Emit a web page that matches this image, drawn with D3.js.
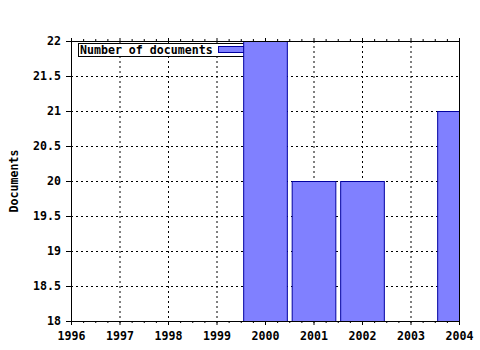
<!DOCTYPE html>
<html>
<head>
<meta charset="utf-8">
<script src="https://cdn.jsdelivr.net/npm/d3@7"></script>
<style>
  body { margin: 0; background: #fff; }
  text { font-family: "DejaVu Sans Mono", monospace; }
</style>
</head>
<body>
<div id="vis"></div>
<script>
// data
const years = [1996, 1997, 1998, 1999, 2000, 2001, 2002, 2003, 2004];
const docs = [18, 18, 18, 18, 22, 20, 20, 18, 21];
const yTicks = [18, 18.5, 19, 19.5, 20, 20.5, 21, 21.5, 22];

const FRAME_WIDTH = 480;
const FRAME_HEIGHT = 350;
const MARGINS = {left: 71, right: 21, top: 41, bottom: 29};
const FONT = 11.6;

const svg = d3.select("#vis")
  .append("svg")
    .attr("width", FRAME_WIDTH)
    .attr("height", FRAME_HEIGHT);

const X_SCALE = d3.scaleLinear()
  .domain([1996, 2004])
  .range([MARGINS.left, FRAME_WIDTH - MARGINS.right]);

const Y_SCALE = d3.scaleLinear()
  .domain([18, 22])
  .range([FRAME_HEIGHT - MARGINS.bottom, MARGINS.top]);

const step = X_SCALE(1997) - X_SCALE(1996);
const barW = step * 0.9;

// clip for the plot area
svg.append("clipPath").attr("id", "plot")
  .append("rect")
    .attr("x", MARGINS.left)
    .attr("y", MARGINS.top)
    .attr("width", X_SCALE(2004) - X_SCALE(1996))
    .attr("height", Y_SCALE(18) - Y_SCALE(22));

// dotted grid
svg.append("g").selectAll("line")
  .data(years.slice(1, -1))
  .enter().append("line")
    .attr("x1", d => X_SCALE(d) + 0.5).attr("x2", d => X_SCALE(d) + 0.5)
    .attr("y1", Y_SCALE(22)).attr("y2", Y_SCALE(18))
    .attr("stroke", "#000").attr("stroke-dasharray", "2,3");

svg.append("g").selectAll("line")
  .data(yTicks.slice(1, -1))
  .enter().append("line")
    .attr("x1", X_SCALE(1996)).attr("x2", X_SCALE(2004))
    .attr("y1", d => Y_SCALE(d) + 0.5).attr("y2", d => Y_SCALE(d) + 0.5)
    .attr("stroke", "#000").attr("stroke-dasharray", "2,3");

// legend
const legend = svg.append("g");
legend.append("rect")
  .attr("x", 78.5).attr("y", 43.5).attr("width", 166).attr("height", 13)
  .attr("fill", "#fff").attr("stroke", "#000");
legend.append("text")
  .attr("x", 80).attr("y", 54)
  .attr("font-size", FONT).attr("font-weight", "bold")
  .text("Number of documents");
legend.append("rect")
  .attr("x", 218.5).attr("y", 46.5).attr("width", 30).attr("height", 6)
  .attr("fill", "#8080ff").attr("stroke", "#0000a0");

// bars
svg.append("g").attr("clip-path", "url(#plot)")
  .selectAll("rect")
  .data(years.map((y, i) => ({year: y, value: docs[i]})).filter(d => d.value > 18))
  .enter().append("rect")
    .attr("x", d => X_SCALE(d.year) - barW / 2 + 0.5)
    .attr("y", d => Y_SCALE(d.value) + 0.5)
    .attr("width", barW)
    .attr("height", d => Y_SCALE(18) - Y_SCALE(d.value))
    .attr("fill", "#8080ff")
    .attr("stroke", "#0000a0");

// axes
const xMinor = d3.range(1996, 2004.01, 0.25);
const xAxis = d3.axisBottom(X_SCALE).tickValues(years).tickFormat(d3.format("d")).tickSize(4).tickPadding(7);
const gx = svg.append("g")
  .attr("transform", "translate(0," + Y_SCALE(18) + ")")
  .call(xAxis);
gx.selectAll("text").attr("font-size", FONT).attr("font-weight", "bold")
  .attr("font-family", "DejaVu Sans Mono").attr("fill", "#000");
gx.select(".domain").attr("d", "M" + X_SCALE(1996) + ",0.5H" + X_SCALE(2004));
gx.append("g").selectAll("line")
  .data(xMinor)
  .enter().append("line")
    .attr("x1", d => X_SCALE(d) + 0.5).attr("x2", d => X_SCALE(d) + 0.5)
    .attr("y1", 0).attr("y2", 2).attr("stroke", "#000");

// top edge with ticks
const gt = svg.append("g").attr("transform", "translate(0," + Y_SCALE(22) + ")");
gt.append("line")
  .attr("x1", X_SCALE(1996)).attr("x2", X_SCALE(2004) + 1)
  .attr("y1", 0.5).attr("y2", 0.5).attr("stroke", "#000");
gt.selectAll(".minor")
  .data(xMinor)
  .enter().append("line")
    .attr("x1", d => X_SCALE(d) + 0.5).attr("x2", d => X_SCALE(d) + 0.5)
    .attr("y1", d => Number.isInteger(d) ? -3 : -2).attr("y2", 0)
    .attr("stroke", "#000");

// right edge
svg.append("line")
  .attr("x1", X_SCALE(2004) + 0.5).attr("x2", X_SCALE(2004) + 0.5)
  .attr("y1", Y_SCALE(22)).attr("y2", Y_SCALE(18))
  .attr("stroke", "#000");

const yAxis = d3.axisLeft(Y_SCALE).tickValues(yTicks).tickFormat(d3.format("")).tickSize(5).tickPadding(5);
const gy = svg.append("g")
  .attr("transform", "translate(" + X_SCALE(1996) + ",0)")
  .call(yAxis);
gy.selectAll("text").attr("font-size", FONT).attr("font-weight", "bold")
  .attr("font-family", "DejaVu Sans Mono").attr("fill", "#000");
gy.select(".domain").attr("d", "M0.5," + Y_SCALE(22) + "V" + (Y_SCALE(18) + 1));

// y label
svg.append("text")
  .attr("transform", "translate(18," + ((Y_SCALE(18) + Y_SCALE(22)) / 2) + ") rotate(-90)")
  .attr("text-anchor", "middle")
  .attr("font-size", FONT).attr("font-weight", "bold")
  .text("Documents");
</script>
</body>
</html>
